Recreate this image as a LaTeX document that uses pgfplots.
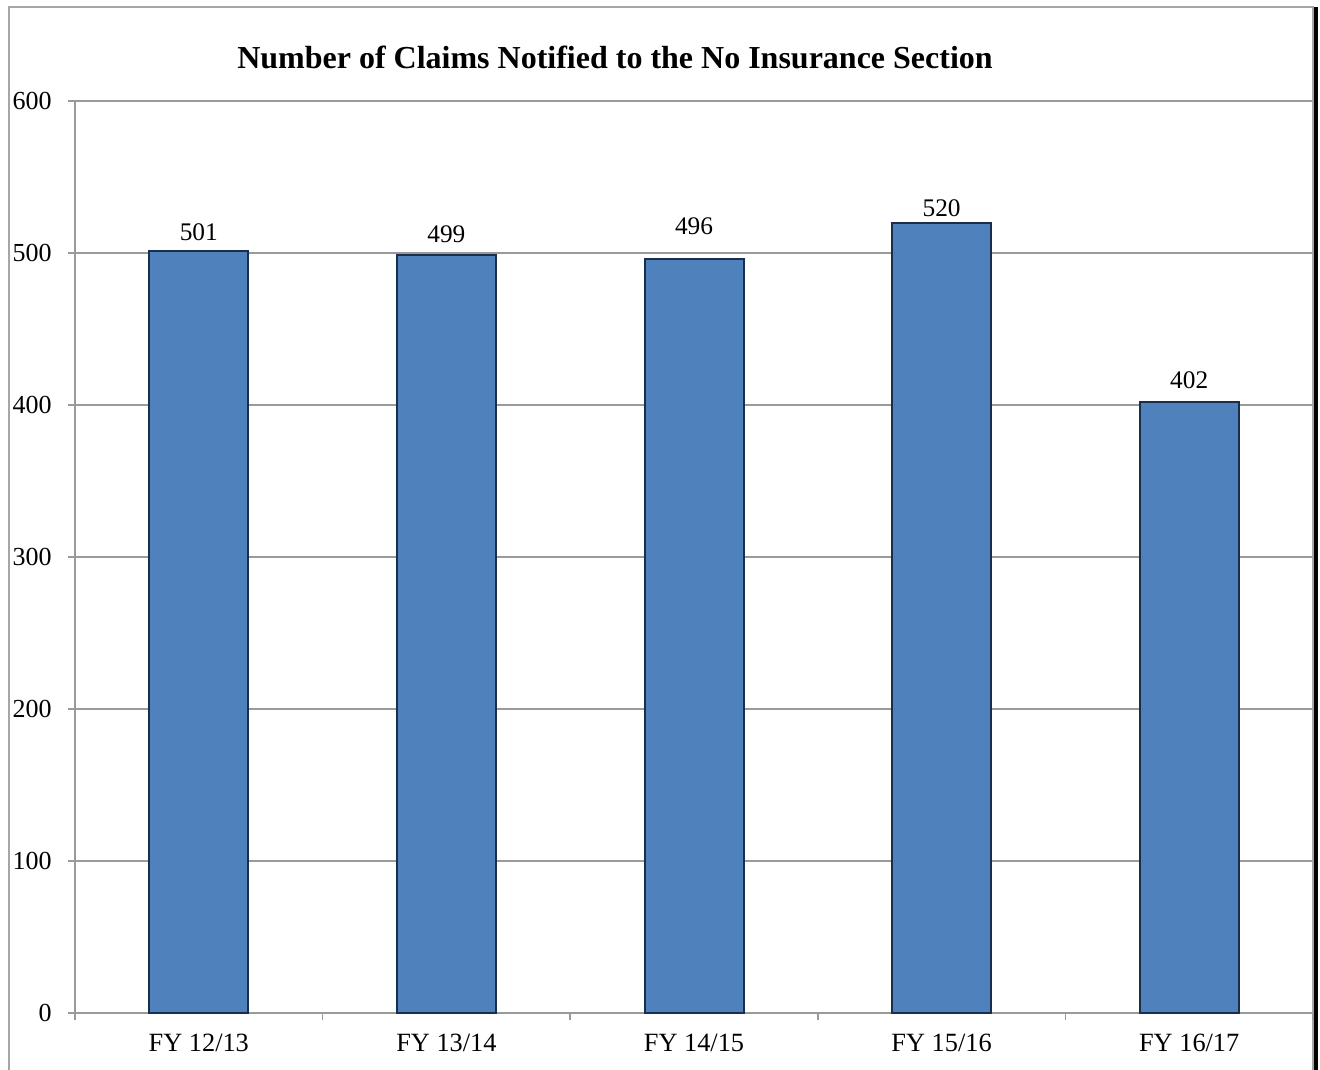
\documentclass[border=0pt]{standalone}
\usepackage{pgfplots}
\pgfplotsset{compat=1.18}
\usepackage{pgfplotstable}
\usepackage{fontspec}
\setmainfont{Liberation Serif}
\definecolor{barfill}{HTML}{4F81BD}
\definecolor{baredge}{HTML}{1A2E4C}
\definecolor{gridgray}{HTML}{9A9A9A}
\definecolor{bordergray}{HTML}{A6A6A6}
\pgfplotstableread{
x y ly
0 501 513.8
1 499 512.5
2 496 517.8
3 520 529.6
4 402 416.4
}\data
\begin{document}
\begin{tikzpicture}
\path[use as bounding box] (0,0) rectangle (792pt,642pt);
% chart border
\draw[bordergray, line width=1.2pt] (5.1pt,0pt) -- (5.1pt,637.8pt) -- (787.8pt,637.8pt) -- (787.8pt,0pt);
\fill[black] (788.4pt,0pt) rectangle (790.8pt,637.8pt);
\node[font=\fontsize{19.2}{23}\selectfont\bfseries] at (369pt,607.8pt) {Number of Claims Notified to the No Insurance Section};
\begin{axis}[
  at={(45pt,34.2pt)}, anchor=south west,
  scale only axis, width=742.8pt, height=547.2pt,
  xmin=-0.5, xmax=4.5, ymin=0, ymax=600,
  ytick={0,100,...,600},
  xtick={-0.5,0.5,...,4.5},
  xticklabels={FY 12/13,FY 13/14,FY 14/15,FY 15/16,FY 16/17},
  x tick label as interval,
  axis x line*=bottom, axis y line*=left,
  axis line style={gridgray, line width=0.9pt},
  ymajorgrids, grid style={gridgray, line width=0.9pt},
  tick align=outside, major tick length=4.2pt,
  tick style={gridgray, line width=0.9pt},
  /pgf/number format/assume math mode=true,
  yticklabel style={font=\fontsize{15.6}{18}\selectfont, anchor=east, inner sep=0pt, xshift=-9.6pt},
  xticklabel style={font=\fontsize{15.8}{18}\selectfont, anchor=center, inner sep=0pt, yshift=-14pt},
  clip=false,
]
\addplot[ybar, bar width=59.4pt, fill=barfill, draw=baredge, line width=1.2pt] table[x=x,y=y]{\data};
\addplot[draw=none, mark=none, nodes near coords, point meta=explicit,
  nodes near coords align={center},
  every node near coord/.append style={font=\fontsize{15.2}{18}\selectfont, inner sep=0pt}]
  table[x=x,y=ly,meta=y]{\data};
\end{axis}
\end{tikzpicture}
\end{document}
